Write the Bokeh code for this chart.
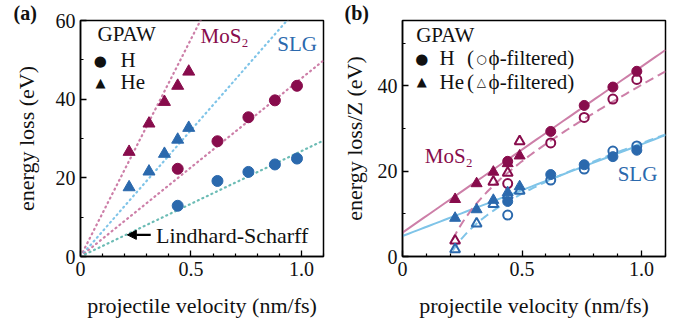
import numpy as np
from bokeh.plotting import figure
from bokeh.layouts import row
from bokeh.models import Range1d, Label, Arrow, NormalHead, FixedTicker
from bokeh.embed import file_html
from bokeh.resources import INLINE

# ---------------- data ----------------
v_H = [0.44, 0.62, 0.76, 0.88, 0.98]
v_He = [0.22, 0.31, 0.38, 0.44, 0.49]

# panel (a): energy loss (eV)
mos2_H = [22.3, 29.3, 35.4, 39.7, 43.4]
slg_H = [12.9, 19.2, 21.5, 23.4, 24.9]
mos2_He = [26.6, 33.8, 39.3, 43.4, 47.0]
slg_He = [17.6, 21.6, 26.1, 29.7, 32.7]

# Lindhard-Scharff slopes (eV per nm/fs)
ls_slope_mos2_He = 110.5
ls_slope_slg_He = 64.2
ls_slope_mos2_H = 45.3
ls_slope_slg_H = 26.8

# panel (b): energy loss / Z (eV)
mos2_He_Z = [13.4, 17.1, 19.8, 21.8, 23.6]
slg_He_Z = [9.0, 11.0, 13.2, 15.0, 16.4]
mos2_H_f = [17.1, 26.6, 32.6, 36.9, 41.5]
slg_H_f = [9.7, 17.9, 20.5, 24.7, 25.9]
mos2_He_f = [3.7, float("nan"), 17.5, 19.6, 27.0]
slg_He_f = [1.7, 7.7, 12.3, 14.3, 15.4]

# linear fits (intercept, slope) and filtered fits (a*v + b - c/v)
fit_mos2 = (5.6, 38.9)
fit_slg = (4.8, 21.5)
fitf_mos2 = (28.5, 15.37, 3.65)
fitf_slg = (17.68, 11.86, 2.984)

x_ticks = [0, 0.5, 1.0]
x_minor = [0.1, 0.2, 0.3, 0.4, 0.6, 0.7, 0.8, 0.9, 1.1]
x_tick_labels = ["0", "0.5", "1.0"]

# ---------------- style ----------------
CRIM = "#880c4c"
BLUE = "#2b69ad"
PINK_L = "#cd7fa8"
LBLUE_L = "#7fc4e8"
TEAL_L = "#6cbcb5"
FONT = "Liberation Serif"
TXT = "#111111"
TS = "21px"


def style(p, yticks, ylab_standoff):
    p.outline_line_color = "black"
    p.outline_line_width = 1.5
    p.grid.visible = False
    p.background_fill_color = "white"
    p.border_fill_color = "white"
    for ax in (p.xaxis[0], p.yaxis[0]):
        ax.axis_line_width = 1.5
        ax.axis_line_color = "black"
        ax.major_tick_in = 6
        ax.major_tick_out = 0
        ax.minor_tick_in = 3
        ax.minor_tick_out = 0
        ax.major_tick_line_width = 1.3
        ax.minor_tick_line_width = 1.2
        ax.major_label_text_font = FONT
        ax.major_label_text_font_size = "20px"
        ax.major_label_text_color = TXT
        ax.axis_label_text_font = FONT
        ax.axis_label_text_font_size = "22px"
        ax.axis_label_text_font_style = "normal"
        ax.axis_label_text_color = TXT
    p.xaxis.ticker = FixedTicker(ticks=x_ticks, minor_ticks=x_minor)
    p.xaxis.major_label_overrides = {t: l for t, l in zip(x_ticks, x_tick_labels)}
    p.xaxis.major_label_standoff = 5
    p.xaxis.axis_label_standoff = 14
    p.yaxis.ticker = yticks
    p.yaxis.major_label_standoff = 5
    p.yaxis.axis_label_standoff = ylab_standoff
    p.title.text_font = FONT
    p.title.text_font_size = "20px"
    p.title.text_font_style = "bold"
    p.title.align = "left"
    p.title.standoff = -7
    p.title.text_color = TXT


def label(p, x, y, text, color=TXT, size=TS, font=FONT, style_="normal", baseline="middle", align="left"):
    p.add_layout(Label(x=x, y=y, text=text, text_color=color, text_font_size=size,
                       text_font=font, text_font_style=style_, text_baseline=baseline,
                       text_align=align))


# ---------------- panel (a) ----------------
pa = figure(width=338, height=329, x_range=Range1d(0, 1.1), y_range=Range1d(0, 60),
            output_backend="svg", toolbar_location=None, title="(a)",
            min_border_left=80, min_border_right=15, min_border_top=20, min_border_bottom=73,
            x_axis_label="projectile velocity (nm/fs)", y_axis_label="energy loss (eV)")
style(pa, FixedTicker(ticks=[0, 20, 40, 60], minor_ticks=[10, 30, 50]), 14)
pa.title.offset = -67

xl = np.array([0.0, 1.1])
for slope, col in [(ls_slope_mos2_He, PINK_L), (ls_slope_slg_He, LBLUE_L),
                   (ls_slope_mos2_H, PINK_L), (ls_slope_slg_H, TEAL_L)]:
    pa.line(xl, slope * xl, line_color=col, line_width=2.2, line_dash="1 4", line_cap="round")

pa.scatter(v_He, mos2_He, marker="triangle", size=12, color=CRIM)
pa.scatter(v_He, slg_He, marker="triangle", size=12, color=BLUE)
pa.scatter(v_H, mos2_H, marker="circle", size=11, color=CRIM)
pa.scatter(v_H, slg_H, marker="circle", size=11, color=BLUE)

label(pa, 0.077, 56.6, "GPAW")
label(pa, 0.09, 49.7, "●", size="15px", font="DejaVu Sans", align="center")
label(pa, 0.181, 49.9, "H")
label(pa, 0.09, 44.2, "▲", size="13px", font="DejaVu Sans", align="center")
label(pa, 0.181, 44.4, "He")
label(pa, 0.543, 56.0, "MoS₂", color=CRIM)
label(pa, 0.891, 54.0, "SLG", color=BLUE)
label(pa, 0.342, 5.3, "Lindhard-Scharff", size="22px")
pa.add_layout(Arrow(x_start=0.318, y_start=5.5, x_end=0.212, y_end=5.5, line_width=2.2,
                    line_color="black",
                    end=NormalHead(size=9, fill_color="black", line_color="black")))

# ---------------- panel (b) ----------------
pb = figure(width=341, height=329, x_range=Range1d(0, 1.1), y_range=Range1d(0, 55.3),
            output_backend="svg", toolbar_location=None, title="(b)",
            min_border_left=61, min_border_right=14, min_border_top=20, min_border_bottom=73,
            x_axis_label="projectile velocity (nm/fs)", y_axis_label="energy loss/Z (eV)")
style(pb, FixedTicker(ticks=[0, 20, 40], minor_ticks=[10, 30, 50]), 8)
pb.title.offset = -58

xs = np.linspace(0, 1.1, 50)
pb.line(xs, fit_mos2[0] + fit_mos2[1] * xs, line_color=PINK_L, line_width=2)
pb.line(xs, fit_slg[0] + fit_slg[1] * xs, line_color=LBLUE_L, line_width=2)
xf = np.linspace(0.21, 1.1, 120)
a, b, c = fitf_mos2
pb.line(xf, a * xf + b - c / xf, line_color=PINK_L, line_width=2, line_dash="9 5")
a, b, c = fitf_slg
pb.line(xf, a * xf + b - c / xf, line_color=LBLUE_L, line_width=2, line_dash="9 5")

pb.scatter(v_He, mos2_He_f, marker="triangle", size=10, line_color=CRIM, fill_alpha=0, line_width=2)
pb.scatter(v_He, slg_He_f, marker="triangle", size=10, line_color=BLUE, fill_alpha=0, line_width=2)
pb.scatter(v_H, mos2_H_f, marker="circle", size=9, line_color=CRIM, fill_alpha=0, line_width=2)
pb.scatter(v_H, slg_H_f, marker="circle", size=9, line_color=BLUE, fill_alpha=0, line_width=2)
pb.scatter(v_He, mos2_He_Z, marker="triangle", size=11, color=CRIM)
pb.scatter(v_He, slg_He_Z, marker="triangle", size=11, color=BLUE)
pb.scatter(v_H, mos2_H, marker="circle", size=10, color=CRIM)
pb.scatter(v_H, slg_H, marker="circle", size=10, color=BLUE)

label(pb, 0.057, 52.0, "GPAW")
label(pb, 0.081, 46.2, "●", size="15px", font="DejaVu Sans", align="center")
label(pb, 0.155, 46.4, "H")
label(pb, 0.27, 46.4, "(")
label(pb, 0.33, 46.3, "○", size="12px", font="DejaVu Sans", style_="bold", align="center")
label(pb, 0.36, 46.4, "ϕ-filtered)")
label(pb, 0.081, 40.9, "▲", size="13px", font="DejaVu Sans", align="center")
label(pb, 0.155, 41.0, "He")
label(pb, 0.27, 41.0, "(")
label(pb, 0.33, 40.9, "△", size="12px", font="DejaVu Sans", style_="bold", align="center")
label(pb, 0.36, 41.0, "ϕ-filtered)")
label(pb, 0.093, 23.6, "MoS₂", color=CRIM)
label(pb, 0.90, 19.3, "SLG", color=BLUE)

layout = row(pa, pb)
open("out.html", "w").write(file_html(layout, INLINE))
